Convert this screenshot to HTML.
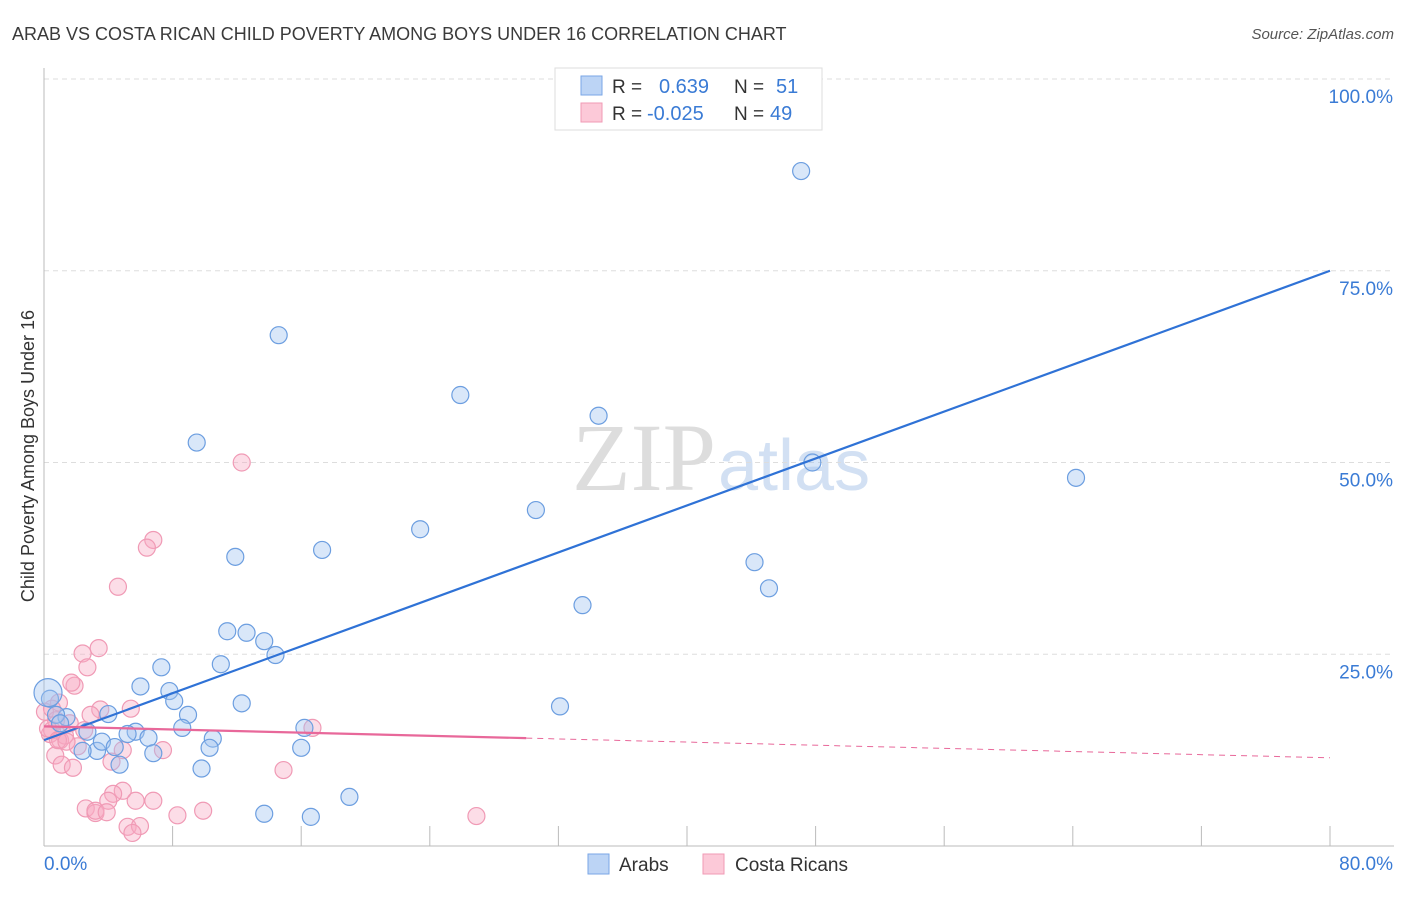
<!DOCTYPE html>
<html><head><meta charset="utf-8"><style>
body{margin:0;background:#fff;font-family:"Liberation Sans",sans-serif;}
</style></head><body>
<svg width="1406" height="892" xmlns="http://www.w3.org/2000/svg" id="svg">
<text x="12" y="40" font-size="18" fill="#3a3a3a">ARAB VS COSTA RICAN CHILD POVERTY AMONG BOYS UNDER 16 CORRELATION CHART</text>
<text x="1394" y="39" font-size="15" fill="#555" font-style="italic" text-anchor="end">Source: ZipAtlas.com</text>
<text x="716" y="490" font-size="96" fill="#ddd" text-anchor="end" font-family="Liberation Serif">ZIP</text>
<text x="718" y="490" font-size="72" fill="#d2e0f3">atlas</text>
<g id="grid"></g>
<line x1="44" y1="68" x2="44" y2="846" stroke="#bbb"/>
<line x1="44" y1="846" x2="1394" y2="846" stroke="#bbb"/>
<text transform="translate(34,456) rotate(-90)" font-size="18" fill="#333" text-anchor="middle">Child Poverty Among Boys Under 16</text>
<g id="pts"></g>
<g id="lines"></g>
<text x="44" y="870" font-size="19" fill="#3a7bd5">0.0%</text>
<text x="1393" y="870" font-size="19" fill="#3a7bd5" text-anchor="end">80.0%</text>
<g>
<rect x="555" y="68" width="267" height="62" fill="#fff" stroke="#ddd"/>
<rect x="581" y="76" width="21" height="19" fill="#bcd4f5" stroke="#7aa6e6"/>
<rect x="581" y="103" width="21" height="19" fill="#fcc9d8" stroke="#f09ab5"/>
<text x="612" y="93" font-size="19" fill="#333">R = </text><text x="659" y="93" font-size="20" fill="#3a7bd5">0.639</text>
<text x="734" y="93" font-size="19" fill="#333">N = </text><text x="776" y="93" font-size="20" fill="#3a7bd5">51</text>
<text x="612" y="120" font-size="19" fill="#333">R = </text><text x="647" y="120" font-size="20" fill="#3a7bd5">-0.025</text>
<text x="734" y="120" font-size="19" fill="#333">N = </text><text x="770" y="120" font-size="20" fill="#3a7bd5">49</text>
</g>
<g>
<rect x="588" y="854" width="21" height="20" fill="#bcd4f5" stroke="#7aa6e6"/>
<text x="619" y="871" font-size="19" fill="#333">Arabs</text>
<rect x="703" y="854" width="21" height="20" fill="#fcc9d8" stroke="#f09ab5"/>
<text x="735" y="871" font-size="19" fill="#333">Costa Ricans</text>
</g>
</svg>
<script>
const yTicks=[25,50,75,100];
const yTickLabels=["25.0%","50.0%","75.0%","100.0%"];
const xTicks=[8,16,24,32,40,48,56,64,72,80];
const arabsX=[47.1,14.6,25.9,34.5,9.5,47.8,64.2,30.6,23.4,17.3,11.9,44.2,45.1,33.5,11.4,12.6,13.7,14.4,7.3,11.0,6.0,7.8,8.1,12.3,32.1,4.0,8.96,16.2,8.6,5.7,6.5,10.5,10.3,6.8,3.3,2.4,4.7,9.8,16.0,3.6,2.7,1.4,0.75,0.37,19.0,13.7,16.6,0.25,1.0,4.4,5.2];
const arabsY=[88,66.6,58.8,56.1,52.6,50.0,48.0,43.8,41.3,38.6,37.7,37.0,33.6,31.4,28.0,27.8,26.7,24.9,23.3,23.7,20.8,20.2,18.9,18.6,18.2,17.2,17.1,15.4,15.4,14.9,14.1,14.0,12.8,12.1,12.4,12.4,10.6,10.1,12.8,13.6,14.9,16.8,17.1,19.2,6.4,4.2,3.8,20.0,16.0,12.9,14.6];
const costaX=[12.3,6.8,6.4,4.6,3.4,2.4,2.7,1.9,1.7,0.93,5.4,3.5,2.9,16.7,0.37,1.0,2.1,7.4,4.9,0.7,1.1,1.8,14.9,4.2,4.9,4.3,4.0,2.6,3.2,5.7,6.8,3.2,3.9,8.3,9.9,26.9,5.2,5.97,5.5,0.5,1.3,0.06,0.75,0.25,1.6,2.5,0.87,0.5,1.4];
const costaY=[50.0,39.9,38.9,33.8,25.8,25.1,23.3,20.9,21.3,18.7,17.9,17.8,17.1,15.4,14.6,13.8,13.0,12.5,12.5,11.8,10.6,10.2,9.9,11.0,7.2,6.8,5.9,4.9,4.3,5.9,5.9,4.6,4.4,4.0,4.6,3.9,2.5,2.6,1.7,15.1,14.4,17.5,16.4,15.3,16.0,15.1,13.8,17.9,13.6];
const arabsTrend=[13.8,75.0];
const costaTrend=[15.6,11.5];
const NS='http://www.w3.org/2000/svg';
const xs=v=>44+v*(1330-44)/80;
const ys=v=>846-v*(846-79)/100;
function mk(t,a){const e=document.createElementNS(NS,t);for(const k in a)e.setAttribute(k,a[k]);return e;}
const grid=document.getElementById('grid');
yTicks.forEach((t,i)=>{
 const l=mk('line',{x1:44,x2:1394,y1:ys(t),y2:ys(t),stroke:'#ddd','stroke-dasharray':'5,4'});
 
 
 grid.appendChild(l);
 const tx=mk('text',{x:1393,y:ys(t)+24,'font-size':19,fill:'#3a7bd5','text-anchor':'end'});
 tx.textContent=yTickLabels[i];
 
 
 grid.appendChild(tx);
});
xTicks.forEach(t=>{
 const l=mk('line',{x1:xs(t),x2:xs(t),y1:826,y2:846,stroke:'#bbb'});
 
 
 grid.appendChild(l);
});
const pts=document.getElementById('pts');
costaX.forEach((x,i)=>{
 const c=mk('circle',{cx:xs(x),cy:ys(costaY[i]),r:8.5,fill:'rgba(248,170,195,0.4)',stroke:'#f09ab5','stroke-width':1.2});
 
 
 pts.appendChild(c);
});
arabsX.forEach((x,i)=>{
 const c=mk('circle',{cx:xs(x),cy:ys(arabsY[i]),r:i==47?14:8.5,fill:'rgba(160,195,240,0.4)',stroke:'#6c9ee0','stroke-width':1.2});
 
 
 pts.appendChild(c);
});
const lines=document.getElementById('lines');
const bl=mk('line',{x1:xs(0),y1:ys(arabsTrend[0]),x2:xs(80),y2:ys(arabsTrend[1]),stroke:'#2f72d6','stroke-width':2.2});


lines.appendChild(bl);
const pm=v=>costaTrend[0]+(costaTrend[1]-costaTrend[0])*v/80;
const pl=mk('line',{x1:xs(0),y1:ys(pm(0)),x2:xs(30),y2:ys(pm(30)),stroke:'#e8689a','stroke-width':2.2});


lines.appendChild(pl);
const pd=mk('line',{x1:xs(30),y1:ys(pm(30)),x2:xs(80),y2:ys(pm(80)),stroke:'#e8689a','stroke-width':1,'stroke-dasharray':'6,5'});


lines.appendChild(pd);
</script>
</body></html>
